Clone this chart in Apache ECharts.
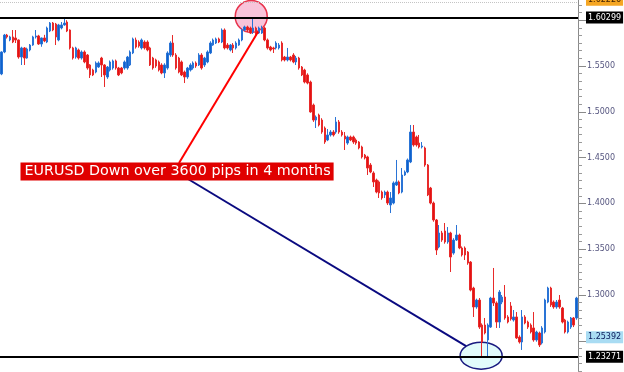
<!DOCTYPE html>
<html><head><meta charset="utf-8">
<script src="https://cdn.jsdelivr.net/npm/echarts@6/dist/echarts.min.js"></script>
<style>html,body{margin:0;padding:0;background:#fff}#c{width:624px;height:372px}</style>
</head><body><div id="c"></div>
<script>
const opens = [
1.5413,1.5653,1.5838,1.5784,1.5817,1.5806,1.5784,1.5598,1.5697,1.5587,
1.5675,1.5729,1.5817,1.5828,1.5740,1.5806,1.5762,1.5882,1.5969,1.5958,
1.5784,1.5915,1.5948,1.5980,1.5893,1.5697,1.5598,1.5675,1.5587,1.5653,
1.5620,1.5511,1.5456,1.5434,1.5489,1.5587,1.5511,1.5380,1.5456,1.5478,
1.5555,1.5478,1.5478,1.5478,1.5478,1.5511,1.5642,1.5784,1.5762,1.5697,
1.5762,1.5762,1.5697,1.5587,1.5566,1.5544,1.5511,1.5424,1.5478,1.5620,
1.5751,1.5620,1.5587,1.5544,1.5434,1.5380,1.5456,1.5478,1.5533,1.5511,
1.5620,1.5511,1.5544,1.5642,1.5729,1.5751,1.5795,1.5762,1.5893,1.5729,
1.5675,1.5729,1.5697,1.5729,1.5784,1.5893,1.5926,1.5915,1.5871,1.5915,
1.5860,1.5860,1.5915,1.5784,1.5707,1.5697,1.5697,1.5697,1.5751,1.5598,
1.5566,1.5598,1.5620,1.5544,1.5587,1.5489,1.5456,1.5402,1.5325,1.5074,
1.4910,1.4965,1.4910,1.4823,1.4692,1.4747,1.4779,1.4779,1.4889,1.4779,
1.4736,1.4659,1.4725,1.4725,1.4692,1.4670,1.4616,1.4528,1.4507,1.4419,
1.4332,1.4255,1.4234,1.4124,1.4092,1.4124,1.3983,1.4004,1.4201,1.4234,
1.4124,1.4310,1.4343,1.4452,1.4779,1.4725,1.4659,1.4616,1.4605,1.4419,
1.4168,1.4004,1.3819,1.3524,1.3677,1.3699,1.3579,1.3677,1.3458,1.3600,
1.3655,1.3513,1.3513,1.3469,1.3360,1.3076,1.2869,1.2945,1.2672,1.2672,
1.2509,1.2650,1.2967,1.2913,1.2705,1.2923,1.2978,1.2760,1.2880,1.2727,
1.2760,1.2541,1.2487,1.2760,1.2705,1.2672,1.2640,1.2509,1.2585,1.2476,
1.2596,1.2923,1.3076,1.2923,1.2869,1.2945,1.2858,1.2727,1.2596,1.2650,
1.2749,1.2749];
const highs = [
1.5660,1.5850,1.5850,1.5830,1.5893,1.5893,1.5790,1.5710,1.5707,1.5700,
1.5740,1.5830,1.5893,1.5840,1.5810,1.5840,1.5930,1.5980,1.5980,1.5970,
1.5960,1.5980,1.6024,1.6000,1.5900,1.5710,1.5710,1.5690,1.5670,1.5670,
1.5630,1.5520,1.5470,1.5550,1.5550,1.5600,1.5520,1.5500,1.5560,1.5570,
1.5570,1.5490,1.5490,1.5560,1.5610,1.5670,1.5810,1.5810,1.5780,1.5800,
1.5780,1.5780,1.5710,1.5600,1.5580,1.5560,1.5530,1.5530,1.5660,1.5770,
1.5838,1.5640,1.5600,1.5560,1.5450,1.5490,1.5530,1.5550,1.5550,1.5640,
1.5640,1.5600,1.5670,1.5770,1.5800,1.5810,1.5810,1.5910,1.5910,1.5750,
1.5740,1.5750,1.5770,1.5800,1.5910,1.5940,1.5940,1.5930,1.6030,1.5930,
1.5930,1.5940,1.5930,1.5800,1.5720,1.5710,1.5770,1.5750,1.5770,1.5610,
1.5697,1.5610,1.5640,1.5610,1.5600,1.5500,1.5470,1.5420,1.5340,1.5090,
1.4960,1.4980,1.4930,1.4840,1.4812,1.4800,1.4800,1.4943,1.4910,1.4800,
1.4779,1.4740,1.4740,1.4740,1.4710,1.4680,1.4630,1.4540,1.4520,1.4440,
1.4350,1.4270,1.4250,1.4140,1.4140,1.4140,1.4124,1.4240,1.4474,1.4250,
1.4386,1.4360,1.4490,1.4856,1.4856,1.4740,1.4747,1.4670,1.4620,1.4430,
1.4180,1.4020,1.3830,1.3764,1.3700,1.3786,1.3742,1.3690,1.3620,1.3764,
1.3670,1.3530,1.3530,1.3480,1.3370,1.3090,1.2960,1.2967,1.2690,1.2749,
1.2690,1.2980,1.3295,1.2930,1.3054,1.3000,1.3109,1.2780,1.2923,1.2836,
1.2814,1.2560,1.2836,1.2780,1.2720,1.2690,1.2814,1.2610,1.2600,1.2660,
1.2960,1.3090,1.3090,1.2940,1.2945,1.3000,1.2870,1.2740,1.2720,1.2760,
1.2760,1.2980];
const lows = [
1.5400,1.5640,1.5800,1.5770,1.5750,1.5751,1.5580,1.5511,1.5511,1.5580,
1.5660,1.5720,1.5800,1.5730,1.5710,1.5760,1.5750,1.5870,1.5880,1.5729,
1.5770,1.5900,1.5940,1.5870,1.5680,1.5570,1.5580,1.5570,1.5570,1.5530,
1.5460,1.5369,1.5390,1.5420,1.5480,1.5380,1.5271,1.5360,1.5440,1.5460,
1.5460,1.5390,1.5410,1.5460,1.5460,1.5500,1.5630,1.5690,1.5700,1.5680,
1.5680,1.5660,1.5500,1.5460,1.5480,1.5440,1.5410,1.5369,1.5460,1.5600,
1.5600,1.5460,1.5420,1.5390,1.5314,1.5360,1.5440,1.5460,1.5480,1.5500,
1.5460,1.5490,1.5530,1.5630,1.5720,1.5740,1.5750,1.5750,1.5680,1.5680,
1.5660,1.5642,1.5680,1.5720,1.5770,1.5880,1.5870,1.5850,1.5850,1.5840,
1.5850,1.5850,1.5770,1.5680,1.5660,1.5642,1.5680,1.5680,1.5550,1.5550,
1.5550,1.5550,1.5530,1.5511,1.5460,1.5390,1.5310,1.5300,1.4990,1.4890,
1.4823,1.4840,1.4760,1.4650,1.4680,1.4730,1.4730,1.4760,1.4760,1.4730,
1.4583,1.4640,1.4680,1.4650,1.4640,1.4590,1.4490,1.4480,1.4310,1.4330,
1.4179,1.4110,1.4059,1.4040,1.4059,1.3983,1.3895,1.3990,1.4190,1.4100,
1.4110,1.4300,1.4330,1.4440,1.4620,1.4620,1.4600,1.4600,1.4400,1.4080,
1.3990,1.3800,1.3437,1.3510,1.3580,1.3560,1.3560,1.3251,1.3440,1.3590,
1.3500,1.3420,1.3382,1.3330,1.3040,1.2760,1.2850,1.2630,1.2327,1.2570,
1.2327,1.2640,1.2880,1.2640,1.2640,1.2900,1.2730,1.2690,1.2720,1.2710,
1.2520,1.2470,1.2400,1.2680,1.2630,1.2580,1.2490,1.2490,1.2432,1.2460,
1.2580,1.2910,1.2870,1.2850,1.2850,1.2850,1.2690,1.2580,1.2580,1.2630,
1.2650,1.2730];
const closes = [
1.5653,1.5838,1.5817,1.5817,1.5762,1.5784,1.5598,1.5697,1.5587,1.5686,
1.5729,1.5817,1.5828,1.5740,1.5806,1.5773,1.5915,1.5969,1.5893,1.5817,
1.5948,1.5948,1.5969,1.5882,1.5697,1.5587,1.5697,1.5587,1.5653,1.5544,
1.5478,1.5402,1.5402,1.5533,1.5533,1.5511,1.5402,1.5489,1.5544,1.5555,
1.5478,1.5402,1.5424,1.5544,1.5598,1.5653,1.5795,1.5707,1.5718,1.5784,
1.5697,1.5675,1.5511,1.5478,1.5500,1.5456,1.5424,1.5511,1.5642,1.5751,
1.5620,1.5478,1.5434,1.5402,1.5380,1.5478,1.5511,1.5533,1.5500,1.5620,
1.5478,1.5587,1.5653,1.5751,1.5784,1.5795,1.5762,1.5893,1.5697,1.5697,
1.5729,1.5697,1.5751,1.5784,1.5893,1.5926,1.5893,1.5860,1.5915,1.5860,
1.5915,1.5915,1.5784,1.5697,1.5675,1.5686,1.5751,1.5729,1.5566,1.5566,
1.5598,1.5566,1.5544,1.5587,1.5478,1.5402,1.5325,1.5314,1.4998,1.4910,
1.4943,1.4856,1.4779,1.4670,1.4747,1.4779,1.4747,1.4889,1.4779,1.4747,
1.4703,1.4725,1.4692,1.4670,1.4659,1.4605,1.4507,1.4496,1.4386,1.4343,
1.4234,1.4124,1.4114,1.4059,1.4124,1.4004,1.4059,1.4223,1.4234,1.4114,
1.4310,1.4343,1.4474,1.4779,1.4638,1.4638,1.4616,1.4627,1.4419,1.4092,
1.4004,1.3819,1.3491,1.3677,1.3600,1.3579,1.3677,1.3415,1.3600,1.3655,
1.3513,1.3437,1.3437,1.3349,1.3054,1.2869,1.2945,1.2650,1.2487,1.2585,
1.2672,1.2967,1.2913,1.2705,1.3032,1.2978,1.2749,1.2705,1.2738,1.2760,
1.2531,1.2487,1.2760,1.2694,1.2650,1.2596,1.2509,1.2596,1.2454,1.2640,
1.2945,1.3076,1.2891,1.2869,1.2923,1.2869,1.2705,1.2596,1.2705,1.2749,
1.2672,1.2967];
const days = opens.map((_, i) => String(i + 1));
const resistanceLevel = 1.60299;
const supportLevel = 1.23271;
const bidLevel = 1.25392;
const highLevel = 1.62226;
const annotationText = 'EURUSD Down over 3600 pips in 4 months';

const font = 'DejaVu Sans';
const chart = echarts.init(document.getElementById('c'), null, {renderer: 'canvas'});
const ohlc = opens.map((o, i) => [o, closes[i], lows[i], highs[i]]);

function tagLabel(bg, fg) {
  return {show: true, position: 'end', distance: 8, formatter: p => Number(p.value).toFixed(5),
    backgroundColor: bg, color: fg, padding: [2, 2, 1, 2], fontFamily: font, fontSize: 8, lineHeight: 9};
}

chart.setOption({
  animation: false,
  backgroundColor: '#ffffff',
  grid: {left: 0, right: 46, top: -25.6, bottom: -14.6, containLabel: false, outerBoundsMode: 'none'},
  xAxis: {type: 'category', data: days, show: false, boundaryGap: true},
  yAxis: {
    type: 'value', position: 'right', min: 1.20, max: 1.65, interval: 0.05,
    axisLine: {show: true, lineStyle: {color: '#8a8a8a', width: 1}},
    axisTick: {show: true, length: 8, lineStyle: {color: '#8a8a8a'}},
    minorTick: {show: true, splitNumber: 6, length: 4, lineStyle: {color: '#9a9a9a'}},
    splitLine: {show: false},
    axisLabel: {margin: 9, formatter: v => v.toFixed(4), color: '#55557f', fontFamily: font, fontSize: 8}
  },
  series: [{
    type: 'candlestick',
    data: ohlc,
    barWidth: 2,
    itemStyle: {color: '#0d62cc', color0: '#e31212', borderColor: '#2a74d6', borderColor0: '#e82a2a', borderWidth: 1},
    markLine: {
      silent: true, symbol: 'none', animation: false, precision: 5,
      data: [
        {yAxis: 1.6195, lineStyle: {color: '#c4c4c4', type: 'dotted', width: 1}, label: {show: false}},
        {yAxis: highLevel, lineStyle: {color: 'rgba(0,0,0,0)', width: 0}, label: tagLabel('#f5a623', '#402000')},
        {yAxis: resistanceLevel, lineStyle: {color: '#000', type: 'solid', width: 2}, label: tagLabel('#000', '#fff')},
        {yAxis: bidLevel, lineStyle: {color: 'rgba(0,0,0,0)', width: 0}, label: tagLabel('#a9dcf3', '#0a1a5a')},
        {yAxis: supportLevel, lineStyle: {color: '#000', type: 'solid', width: 2}, label: tagLabel('#000', '#fff')}
      ]
    }
  }]
});

const peakIdx = highs.indexOf(Math.max(...highs));
const lowIdx = lows.indexOf(Math.min(...lows));
const peak = chart.convertToPixel({seriesIndex: 0}, [peakIdx, resistanceLevel]);
const bottom = chart.convertToPixel({seriesIndex: 0}, [lowIdx, supportLevel]);
const cx = peak[0] - 2, cy = peak[1] - 1;
const ex = bottom[0] - 1, ey = bottom[1] - 1;

chart.setOption({
  graphic: [
    {type: 'circle', z: 1, shape: {cx: cx, cy: cy, r: 16}, style: {fill: '#f8c4da', stroke: '#e8344c', lineWidth: 1.5}},
    {type: 'ellipse', z: 1, shape: {cx: ex, cy: ey, rx: 21, ry: 13.5}, style: {fill: '#e2fbfb', stroke: '#1a1a80', lineWidth: 1.5}},
    {type: 'line', z: 10, shape: {x1: 179, y1: 163, x2: cx + 7, y2: cy + 15}, style: {stroke: '#ff0000', lineWidth: 2}},
    {type: 'line', z: 10, shape: {x1: 188, y1: 179, x2: ex - 15, y2: ey - 9.5}, style: {stroke: '#0a0a80', lineWidth: 2}},
    {type: 'text', z: 20, x: 20.5, y: 162.5, style: {text: annotationText, fill: '#ffffff', font: '14.3px "DejaVu Sans"',
      backgroundColor: '#e00000', padding: [1, 3, 1, 4], verticalAlign: 'top', align: 'left', lineHeight: 16}}
  ]
});
</script></body></html>
